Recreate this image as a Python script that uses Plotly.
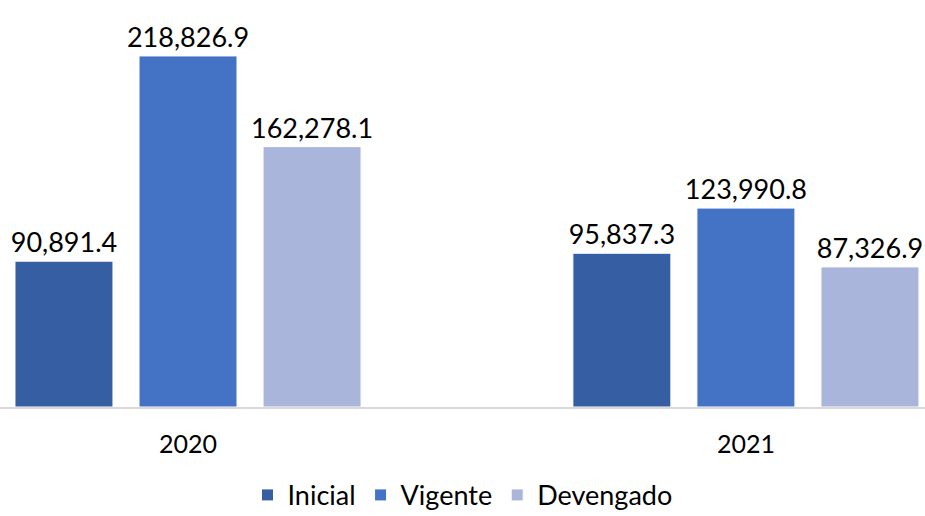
import plotly.graph_objects as go

years = ["2020", "2021"]
inicial = [90891.4, 95837.3]
vigente = [218826.9, 123990.8]
devengado = [162278.1, 87326.9]

series = [
    ("Inicial", inicial, "#355EA3"),
    ("Vigente", vigente, "#4472C4"),
    ("Devengado", devengado, "#A9B5DA"),
]

fig = go.Figure()
for name, vals, color in series:
    fig.add_trace(go.Bar(
        x=years, y=vals, name=name,
        marker=dict(color=color, line=dict(color="white", width=1)),
        text=[f"{v:,.1f}" for v in vals],
        textposition="outside",
        constraintext="none",
        textfont=dict(size=27, color="black"),
        cliponaxis=False,
    ))

fig.update_layout(
    width=925, height=516,
    margin=dict(l=0, r=0, t=0, b=109, autoexpand=False),
    paper_bgcolor="white", plot_bgcolor="white",
    font=dict(family="Lato, sans-serif", color="black", size=25),
    barmode="group", bargap=0.333, bargroupgap=0.21,
    showlegend=True,
    legend=dict(orientation="h", x=0.5, xanchor="center", yref="container",
                y=0.04, yanchor="middle",
                font=dict(size=27), itemwidth=30, tracegroupgap=0),
    xaxis=dict(type="category", range=[-0.337, 1.321], showline=True, linecolor="#D9D9D9",
               linewidth=2, ticks="outside", ticklen=14, tickcolor="rgba(0,0,0,0)",
               tickfont=dict(size=25), showgrid=False, zeroline=False),
    yaxis=dict(range=[0, 253700], visible=False, showgrid=False, zeroline=False),
)

fig.write_html("out.html", config={"displayModeBar": False},
               post_script="document.body.style.margin='0';")
